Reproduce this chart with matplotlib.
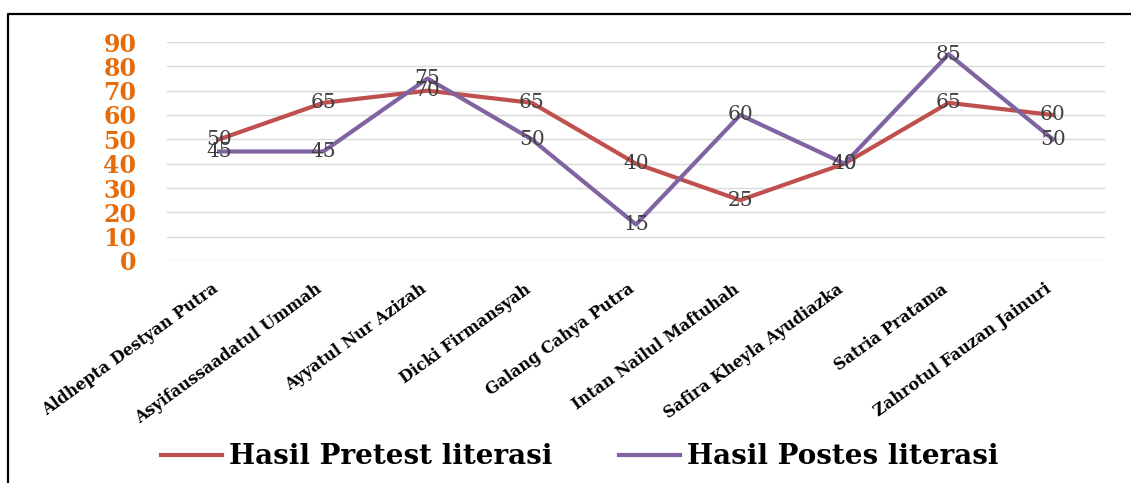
import numpy as np
import matplotlib.pyplot as plt
from matplotlib.lines import Line2D
from matplotlib.transforms import ScaledTranslation

siswa = ['Aldhepta Destyan Putra', 'Asyifaussaadatul Ummah', 'Ayyatul Nur Azizah',
         'Dicki Firmansyah', 'Galang Cahya Putra', 'Intan Nailul Maftuhah',
         'Safira Kheyla Ayudiazka', 'Satria Pratama', 'Zahrotul Fauzan Jainuri']
pretest = [50, 65, 70, 65, 40, 25, 40, 65, 60]
postes = [45, 45, 75, 50, 15, 60, 40, 85, 50]
yticks = [0, 10, 20, 30, 40, 50, 60, 70, 80, 90]

W, H = 1131, 483
fig = plt.figure(figsize=(W / 100, H / 100), dpi=100)
ax = fig.add_axes([167 / W, 222 / H, 938 / W, 219 / H])

serif = 'DejaVu Serif'
x = np.arange(len(siswa))

ax.plot(x, pretest, color='#C0504D', lw=3, label='Hasil Pretest literasi', zorder=3)
ax.plot(x, postes, color='#8064A2', lw=3, label='Hasil Postes literasi', zorder=4)

# label angka di tiap titik
for xi, v in zip(x, pretest):
    ax.text(xi, v, str(v), ha='center', va='center', fontsize=14.5,
            family=serif, color='#404040', zorder=5)
for xi, v in zip(x, postes):
    ax.text(xi, v, str(v), ha='center', va='center', fontsize=14.5,
            family=serif, color='#404040', zorder=5)

ax.set_xlim(-0.5, len(siswa) - 0.5)
ax.set_ylim(0, 90)
ax.set_yticks(yticks)
ax.set_yticklabels([str(t) for t in yticks], family=serif, fontweight='bold',
                   fontsize=17, color='#E46C0A')
ax.tick_params(axis='y', length=0, pad=22)
ax.set_xticks(x)
ax.set_xticklabels(siswa, rotation=36, ha='right', rotation_mode='anchor',
                   family=serif, fontweight='bold', fontsize=11.5)
ax.tick_params(axis='x', length=0, pad=14)
geser = ScaledTranslation(-8 / 100, 0, fig.dpi_scale_trans)
for lbl in ax.get_xticklabels():
    lbl.set_transform(lbl.get_transform() + geser)
ax.grid(axis='y', color='#D9D9D9', lw=1)
ax.set_axisbelow(True)
for s in ax.spines.values():
    s.set_visible(False)

fig.legend(loc='center', bbox_to_anchor=(580 / W, 1 - 457 / H), ncol=2, frameon=False,
           prop={'family': serif, 'weight': 'bold', 'size': 20},
           handlelength=2.2, handletextpad=0.25, columnspacing=2.4)

# bingkai luar
fig.add_artist(Line2D([8 / W, 8 / W, 1], [0, 1 - 14 / H, 1 - 14 / H],
                      color='black', lw=1.6, transform=fig.transFigure))

fig.savefig('out.png', dpi=100)
